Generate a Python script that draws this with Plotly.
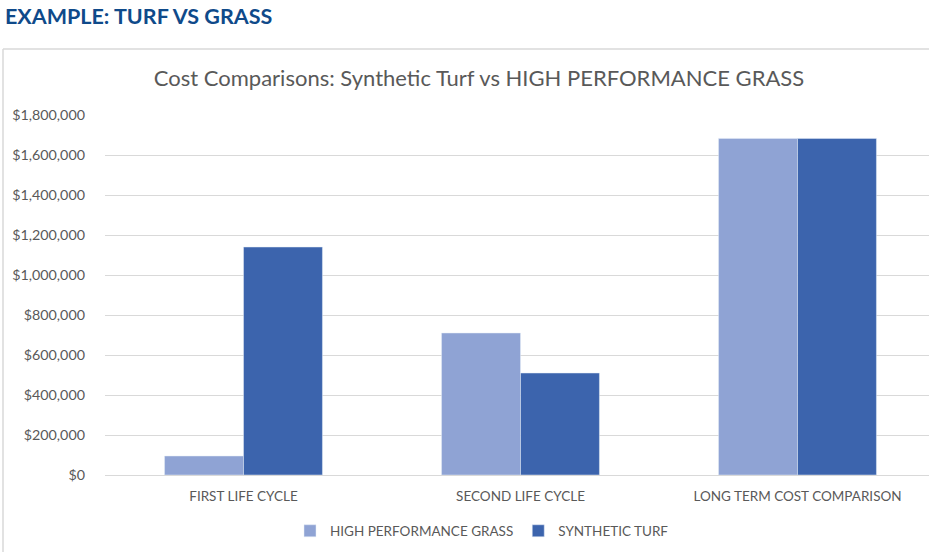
import plotly.graph_objects as go

# Data
categories = ['FIRST LIFE CYCLE', 'SECOND LIFE CYCLE', 'LONG TERM COST COMPARISON']
grass_cost = [95000, 710000, 1683000]
turf_cost = [1140000, 510000, 1683000]
y_ticks = [0, 200000, 400000, 600000, 800000, 1000000, 1200000, 1400000, 1600000, 1800000]
y_labels = ['$0', '$200,000', '$400,000', '$600,000', '$800,000', '$1,000,000',
            '$1,200,000', '$1,400,000', '$1,600,000', '$1,800,000']

font_name = 'Lato'
gray = '#595959'

trace1 = go.Bar(x=categories, y=grass_cost, name='HIGH PERFORMANCE GRASS',
                marker={'color': '#8FA3D4'})
trace2 = go.Bar(x=categories, y=turf_cost, name='SYNTHETIC TURF',
                marker={'color': '#3C64AD'})

# body margin is removed below, so figure px = page px
FW, FH = 929, 552
# plot area on the page: x 105..929, y 115..475
L, T = 105, 115
B = FH - 475
W, H = FW - L, FH - T - B


def px_x(p):
    return (p - L) / W


def px_y(p):
    return (475 - p) / H


layout = go.Layout(
    width=FW, height=FH,
    margin=dict(l=L, r=0, t=T, b=B),
    paper_bgcolor='white', plot_bgcolor='white',
    font=dict(family=font_name, color=gray),
    barmode='group', bargap=0.43, bargroupgap=0,
    title=dict(text='Cost Comparisons: Synthetic Turf vs HIGH PERFORMANCE GRASS',
               x=479 / FW, xanchor='center', xref='container',
               y=1 - 78 / FH, yanchor='middle', yref='container',
               font=dict(family=font_name, size=22, color=gray)),
    xaxis=dict(range=[-0.5, -0.5 + W / 277], showgrid=False, showline=False,
               ticks='', tickfont=dict(size=13.5, color=gray), ticklabelstandoff=11,
               fixedrange=True),
    yaxis=dict(range=[0, 1800000], tickvals=y_ticks, ticktext=y_labels,
               gridcolor='#D9D9D9', gridwidth=1, zeroline=True, zerolinecolor='#D9D9D9',
               zerolinewidth=1, showline=False, ticks='',
               tickfont=dict(size=14.3, color=gray), ticklabelstandoff=19),
    legend=dict(orientation='h', x=px_x(482), xanchor='center', y=px_y(531),
                yanchor='middle', font=dict(size=13.5, color=gray),
                itemwidth=30, tracegroupgap=0),
    shapes=[
        dict(type='line', xref='paper', yref='paper', x0=px_x(3), x1=px_x(3),
             y0=px_y(49), y1=px_y(560), line=dict(color='#D9D9D9', width=1.5)),
        dict(type='line', xref='paper', yref='paper', x0=px_x(3), x1=px_x(935),
             y0=px_y(49), y1=px_y(49), line=dict(color='#D9D9D9', width=1.5)),
    ],
    annotations=[
        dict(text='<b>EXAMPLE: TURF VS GRASS</b>', xref='paper', yref='paper',
             x=px_x(3), xanchor='left', y=px_y(16), yanchor='middle', showarrow=False,
             font=dict(family=font_name, size=21.5, color='#0F4A8A')),
    ],
)

fig = go.Figure(data=[trace1, trace2], layout=layout)
fig.write_html('out.html', config={'displayModeBar': False},
               post_script="document.body.style.margin='0px';")
